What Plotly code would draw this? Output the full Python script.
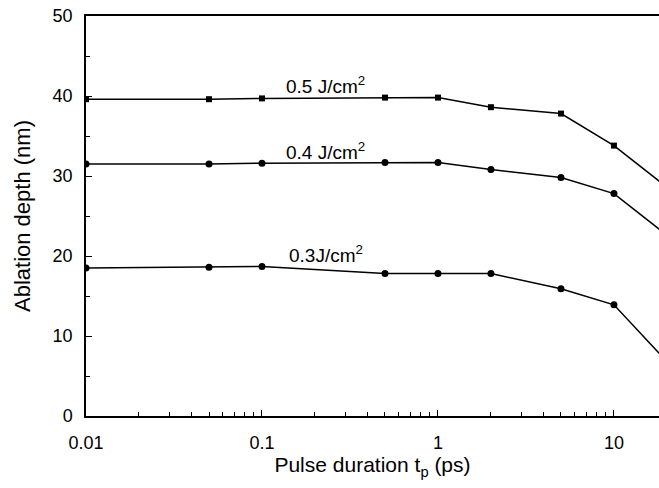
import math
import plotly.graph_objects as go

# Pulse durations (ps); the final point lies past the plotted range and is clipped
pulse_ps = [0.01, 0.05, 0.1, 0.5, 1, 2, 5, 10, 20]

depth_05 = [39.6, 39.6, 39.7, 39.8, 39.8, 38.6, 37.8, 33.8, 28.6]
depth_04 = [31.5, 31.5, 31.6, 31.7, 31.7, 30.8, 29.8, 27.8, 22.6]
depth_03 = [18.5, 18.6, 18.7, 17.8, 17.8, 17.8, 15.9, 13.9, 6.8]

series_labels = ["0.5 J/cm<sup>2</sup>", "0.4 J/cm<sup>2</sup>", "0.3J/cm<sup>2</sup>"]
label_pos_x = [0.23, 0.23, 0.23]
label_pos_y = [41.4, 33.1, 20.3]

x_tick_vals = [0.01, 0.1, 1, 10]
x_tick_text = ["0.01", "0.1", "1", "10"]
x_minor_vals = [m * d for d in (0.01, 0.1, 1, 10) for m in range(2, 10)]

FONT = "Liberation Sans, Arial, sans-serif"

fig = go.Figure()
for ys, sym, size in [(depth_05, "square", 6), (depth_04, "circle", 7), (depth_03, "circle", 7)]:
    fig.add_trace(go.Scatter(
        x=pulse_ps, y=ys, mode="lines+markers",
        line=dict(color="black", width=1.5),
        marker=dict(symbol=sym, size=size, color="black"),
        cliponaxis=True, showlegend=False,
    ))

for txt, lx, ly in zip(series_labels, label_pos_x, label_pos_y):
    # annotation x on a log axis is given in log10 units
    fig.add_annotation(x=math.log10(lx), y=ly, xref="x", yref="y", text=txt, showarrow=False,
                       font=dict(family=FONT, size=19, color="black"))

fig.update_layout(
    width=659, height=488,
    margin=dict(l=86, r=0, t=16, b=72),
    paper_bgcolor="white", plot_bgcolor="white",
    font=dict(family=FONT, color="black"),
)
fig.update_xaxes(
    type="log", range=[-2, 1.256],
    tickvals=x_tick_vals, ticktext=x_tick_text,
    ticks="inside", ticklen=6, tickwidth=1, tickcolor="black",
    minor=dict(tickvals=x_minor_vals, ticks="inside", ticklen=4, tickcolor="black", showgrid=False),
    showline=True, linecolor="black", linewidth=1.5, mirror=True,
    showgrid=False, zeroline=False,
    tickfont=dict(size=18), ticklabelstandoff=10,
    title=dict(text="Pulse duration t<sub>p</sub> (ps)", font=dict(size=21), standoff=4),
)
fig.update_yaxes(
    range=[0, 50], tickvals=[0, 10, 20, 30, 40, 50],
    ticks="inside", ticklen=6, tickwidth=1, tickcolor="black",
    minor=dict(dtick=5, ticks="inside", ticklen=4, tickcolor="black", showgrid=False),
    showline=True, linecolor="black", linewidth=1.5,
    showgrid=False, zeroline=False,
    tickfont=dict(size=18), ticklabelstandoff=8,
    title=dict(text="Ablation depth (nm)", font=dict(size=22), standoff=16),
)

fig.write_html("out.html")
